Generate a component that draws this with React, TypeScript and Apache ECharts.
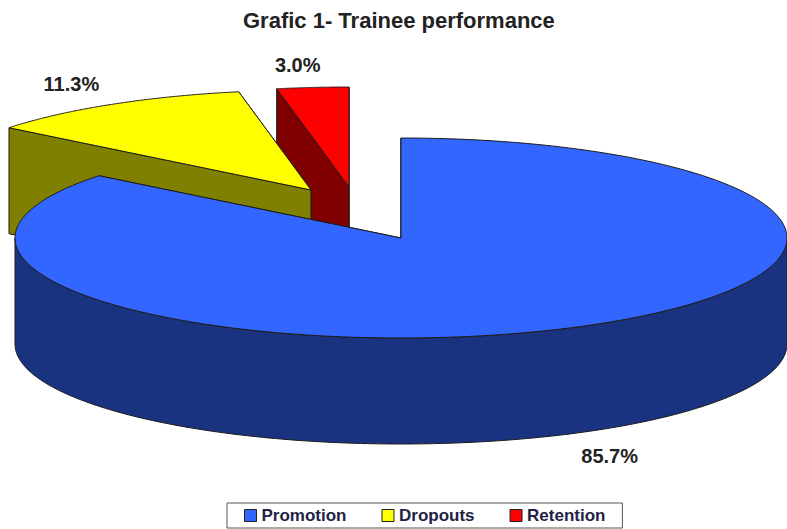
import React, { useEffect, useRef } from "react";
import * as echarts from "echarts";

const categories = ["Promotion", "Dropouts", "Retention"];
const percentages = [85.7, 11.3, 3.0];
const topColors = ["#3366FF", "#FFFF00", "#FF0000"];
const sideColors = ["#1A3380", "#808000", "#800000"];
const TITLE = "Grafic 1- Trainee performance";

const CX = 401;
const CY = 238;
const RX = 386;
const RY = 100;
const DEPTH = 106;
const FONT = "Liberation Sans, Arial, sans-serif";
const OUTLINE = "#1c1c1c";

// explode offset of each slice and where its label sits relative to the rim
const explode = [
  [0, 0],
  [-90, -48],
  [-52, -51],
];
const labelShift = [
  [41, 128],
  [-40, -20],
  [-15, -22],
];

function App() {
  const ref = useRef<HTMLDivElement>(null);

  useEffect(() => {
    const chart = echarts.init(ref.current!, null, { renderer: "svg" });
    const total = percentages.reduce((a, b) => a + b, 0);

    const wedge = (index: number) => (_params: any, api: any) => {
      const before = percentages.slice(0, index).reduce((a, b) => a + b, 0);
      const value = api.value(0) as number;
      const a0 = (before / total) * Math.PI * 2;
      const a1 = ((before + value) / total) * Math.PI * 2;
      const ox = CX + explode[index][0];
      const oy = CY + explode[index][1];
      const at = (a: number, drop = 0): number[] => [
        ox + RX * Math.sin(a),
        oy - RY * Math.cos(a) + drop,
      ];
      const steps = 180;
      const arc: number[][] = [];
      for (let i = 0; i <= steps; i++) arc.push(at(a0 + ((a1 - a0) * i) / steps));

      const top = [[ox, oy], ...arc];
      const face = (a: number) => [
        [ox, oy],
        at(a),
        at(a, DEPTH),
        [ox, oy + DEPTH],
      ];
      const wallFrom = Math.max(a0, Math.PI / 2);
      const wallTo = Math.min(a1, (Math.PI * 3) / 2);
      const children: any[] = [];
      const poly = (points: number[][], fill: string) => ({
        type: "polygon",
        shape: { points },
        style: { fill, stroke: OUTLINE, lineWidth: 1 },
      });
      children.push(poly(face(a1), sideColors[index]));
      children.push(poly(face(a0), sideColors[index]));
      if (wallTo > wallFrom) {
        const front: number[][] = [];
        const back: number[][] = [];
        for (let i = 0; i <= steps; i++) {
          const a = wallFrom + ((wallTo - wallFrom) * i) / steps;
          front.push(at(a));
          back.unshift(at(a, DEPTH));
        }
        children.push(poly([...front, ...back], sideColors[index]));
      }
      children.push(poly(top, topColors[index]));

      const mid = at((a0 + a1) / 2);
      children.push({
        type: "text",
        style: {
          text: value.toFixed(1) + "%",
          x: mid[0] + labelShift[index][0],
          y: mid[1] + labelShift[index][1],
          fill: "#222222",
          fontFamily: FONT,
          fontSize: 20,
          fontWeight: "bold",
          align: "center",
          verticalAlign: "middle",
        },
      });
      return { type: "group", children };
    };

    chart.setOption({
      animation: false,
      backgroundColor: "#ffffff",
      title: {
        text: TITLE,
        left: 243,
        top: 9,
        padding: 0,
        textStyle: { fontFamily: FONT, fontSize: 22, fontWeight: "bold", color: "#222222" },
      },
      legend: {
        data: categories,
        left: 227,
        top: 503,
        orient: "horizontal",
        itemWidth: 12,
        itemHeight: 12,
        itemGap: 35,
        padding: [4, 17, 4, 17],
        borderColor: "#555555",
        borderWidth: 1,
        icon: "rect",
        selectedMode: false,
        itemStyle: { borderColor: "#222222", borderWidth: 1 },
        textStyle: { fontFamily: FONT, fontSize: 17, fontWeight: "bold", color: "#222244" },
      },
      series: categories.map((name, i) => ({
        type: "custom",
        name,
        coordinateSystem: "none",
        silent: true,
        z: 5 - i + (i === 0 ? 5 : 0),
        zlevel: 0,
        itemStyle: { color: topColors[i] },
        renderItem: wedge(i),
        data: [[percentages[i]]],
      })),
    });
    return () => chart.dispose();
  }, []);

  return (
    <div
      ref={ref}
      style={{ position: "fixed", left: 0, top: 0, width: 787, height: 529 }}
    />
  );
}

export default App;
